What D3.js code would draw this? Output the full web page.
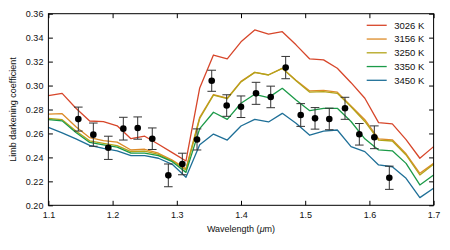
<!DOCTYPE html>
<html>
<head>
<meta charset="utf-8">
<script src="https://cdn.jsdelivr.net/npm/d3@7"></script>
<style>
  body { margin: 0; background: #fff; }
  text { font-family: "Liberation Sans", Arial, sans-serif; fill: #111; }
</style>
</head>
<body>
<svg id="chart"></svg>
<script>
// model wavelength grid (um)
const wavelengths = [1.1, 1.1214, 1.1429, 1.1643, 1.1857, 1.2071, 1.2286, 1.25, 1.2714, 1.2929,
  1.3143, 1.3357, 1.3571, 1.3786, 1.4, 1.4214, 1.4429, 1.4643, 1.4857, 1.5071,
  1.5286, 1.55, 1.5714, 1.5929, 1.6143, 1.6357, 1.6571, 1.6786, 1.7];

const temperatures = ['3026 K', '3156 K', '3250 K', '3350 K', '3450 K'];
const colors = ['#d7462a', '#dd8b28', '#b3a41a', '#1b9a48', '#1e6f97'];

const model3026 = [0.2915, 0.2935, 0.281, 0.2704, 0.2698, 0.2664, 0.2556, 0.2577, 0.251, 0.244,
  0.237, 0.298, 0.3255, 0.3222, 0.3365, 0.3464, 0.343, 0.345, 0.334, 0.3222,
  0.3214, 0.3144, 0.3024, 0.2894, 0.269, 0.268, 0.2548, 0.2393, 0.249];
const model3156 = [0.2762, 0.2765, 0.2656, 0.2565, 0.254, 0.2528, 0.2462, 0.2468, 0.2435, 0.2377,
  0.2305, 0.2735, 0.2925, 0.2895, 0.3035, 0.311, 0.309, 0.3144, 0.3045, 0.2955,
  0.296, 0.2945, 0.283, 0.2715, 0.2555, 0.2547, 0.243, 0.2267, 0.235];
const model3250 = [0.2725, 0.2715, 0.262, 0.2538, 0.2518, 0.2498, 0.2448, 0.2453, 0.2425, 0.237,
  0.2295, 0.2725, 0.292, 0.289, 0.303, 0.311, 0.3088, 0.3144, 0.304, 0.2945,
  0.295, 0.2935, 0.2823, 0.2700, 0.2545, 0.2537, 0.242, 0.2253, 0.2342];
const model3350 = [0.2715, 0.2705, 0.2608, 0.2525, 0.2505, 0.2485, 0.2435, 0.2436, 0.2415, 0.2364,
  0.2275, 0.264, 0.2777, 0.2718, 0.2852, 0.2927, 0.2899, 0.2977, 0.288, 0.279,
  0.281, 0.281, 0.270, 0.2555, 0.2462, 0.2455, 0.235, 0.217, 0.2253];
const model3450 = [0.265, 0.2605, 0.2555, 0.25, 0.2475, 0.2455, 0.2415, 0.2415, 0.2393, 0.2342,
  0.2234, 0.2505, 0.2595, 0.2545, 0.2662, 0.2718, 0.2696, 0.2768, 0.2685, 0.2585,
  0.262, 0.2629, 0.249, 0.2448, 0.2337, 0.2322, 0.2225, 0.2064, 0.2142];
const models = [model3026, model3156, model3250, model3350, model3450];

// measured points
const obsWavelength = [1.1466, 1.170, 1.1933, 1.2167, 1.2391, 1.2618, 1.2868, 1.3086, 1.3315, 1.3544,
  1.3777, 1.40, 1.4234, 1.4463, 1.4696, 1.493, 1.5153, 1.5375, 1.562, 1.5843, 1.6077, 1.631];
const obsValue = [0.272, 0.259, 0.248, 0.264, 0.2645, 0.2556, 0.225, 0.2345, 0.255, 0.304,
  0.2833, 0.2823, 0.2935, 0.2905, 0.315, 0.2754, 0.2726, 0.2721, 0.281, 0.2593, 0.2568, 0.223];
const obsError = [0.010, 0.0097, 0.0097, 0.0095, 0.0093, 0.009, 0.0095, 0.009, 0.0088, 0.0088,
  0.009, 0.009, 0.0092, 0.009, 0.0093, 0.0095, 0.009, 0.009, 0.0092, 0.009, 0.0095, 0.0097];

const xTicks = [1.1, 1.2, 1.3, 1.4, 1.5, 1.6, 1.7];
const yTicks = [0.20, 0.22, 0.24, 0.26, 0.28, 0.30, 0.32, 0.34, 0.36];

const largura = 450, altura = 250;
const margem = { esquerda: 48.4, direita: 16.4, superior: 13.7, inferior: 44.7 };
const w = largura - margem.esquerda - margem.direita;
const h = altura - margem.superior - margem.inferior;

const svg = d3.select('#chart').attr('width', largura).attr('height', altura);
const plot = svg.append('g')
  .attr('transform', 'translate(' + margem.esquerda + ',' + margem.superior + ')');

const x = d3.scaleLinear().domain([1.1, 1.7]).range([0, w]);
const y = d3.scaleLinear().domain([0.20, 0.36]).range([h, 0]);

// model curves
const line = d3.line()
  .x((d, i) => x(wavelengths[i]))
  .y(d => y(d));

plot.selectAll('.model')
  .data(models)
  .enter()
  .append('path')
  .attr('class', 'model')
  .attr('d', line)
  .attr('fill', 'none')
  .attr('stroke', (d, i) => colors[i])
  .attr('stroke-width', 1.3)
  .attr('stroke-linejoin', 'round');

// error bars
const obs = obsWavelength.map((wl, i) => ({ wl: wl, v: obsValue[i], e: obsError[i] }));
const bars = plot.selectAll('.err').data(obs).enter().append('g').attr('class', 'err')
  .attr('stroke', '#333').attr('stroke-width', 1);
bars.append('line')
  .attr('x1', d => x(d.wl)).attr('x2', d => x(d.wl))
  .attr('y1', d => y(d.v - d.e)).attr('y2', d => y(d.v + d.e));
bars.append('line')
  .attr('x1', d => x(d.wl) - 4.3).attr('x2', d => x(d.wl) + 4.3)
  .attr('y1', d => y(d.v + d.e)).attr('y2', d => y(d.v + d.e));
bars.append('line')
  .attr('x1', d => x(d.wl) - 4.3).attr('x2', d => x(d.wl) + 4.3)
  .attr('y1', d => y(d.v - d.e)).attr('y2', d => y(d.v - d.e));

plot.selectAll('.dot').data(obs).enter().append('circle')
  .attr('class', 'dot')
  .attr('cx', d => x(d.wl))
  .attr('cy', d => y(d.v))
  .attr('r', 3.3)
  .attr('fill', '#000');

// axes, ticks pointing inward on all sides
const tick = 4.5;
function estilo(g) {
  g.select('.domain').remove();
  g.selectAll('.tick line').attr('stroke', '#000');
  g.selectAll('.tick text').attr('font-size', 9).attr('fill', '#111')
    .style('font-family', '"Liberation Sans", Arial, sans-serif');
}
plot.append('g')
  .attr('transform', 'translate(0,' + h + ')')
  .call(d3.axisBottom(x).tickValues(xTicks).tickFormat(d3.format('.1f')).tickSizeInner(-tick).tickSizeOuter(0).tickPadding(6))
  .call(estilo);
plot.append('g')
  .call(d3.axisTop(x).tickValues(xTicks).tickFormat('').tickSizeInner(-tick).tickSizeOuter(0))
  .call(estilo);
plot.append('g')
  .call(d3.axisLeft(y).tickValues(yTicks).tickFormat(d3.format('.2f')).tickSizeInner(-tick).tickSizeOuter(0).tickPadding(5))
  .call(estilo);
plot.append('g')
  .attr('transform', 'translate(' + w + ',0)')
  .call(d3.axisRight(y).tickValues(yTicks).tickFormat('').tickSizeInner(-tick).tickSizeOuter(0))
  .call(estilo);

plot.append('rect')
  .attr('width', w).attr('height', h)
  .attr('fill', 'none').attr('stroke', '#000').attr('stroke-width', 1);

// axis titles
const tituloX = svg.append('text')
  .attr('x', margem.esquerda + w / 2)
  .attr('y', 232)
  .attr('text-anchor', 'middle')
  .attr('font-size', 9);
tituloX.append('tspan').text('Wavelength (');
tituloX.append('tspan').attr('font-style', 'italic').text('μ');
tituloX.append('tspan').text('m)');

svg.append('text')
  .attr('transform', 'translate(16,' + (margem.superior + h / 2) + ') rotate(-90)')
  .attr('text-anchor', 'middle')
  .attr('font-size', 9)
  .text('Limb darkening coefficient');

// legend
const legenda = svg.append('g').attr('transform', 'translate(366.7,25.3)');
temperatures.forEach((t, i) => {
  const item = legenda.append('g').attr('transform', 'translate(0,' + i * 13.75 + ')');
  item.append('line').attr('x1', 0).attr('x2', 20).attr('y1', 0).attr('y2', 0)
    .attr('stroke', colors[i]).attr('stroke-width', 1.3);
  item.append('text').attr('x', 27.5).attr('y', 3.3).attr('font-size', 9.5).text(t);
});
</script>
</body>
</html>
